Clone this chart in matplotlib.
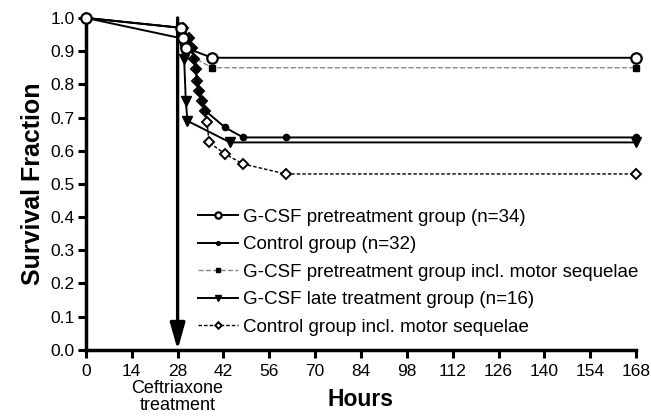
import numpy as np
import matplotlib.pyplot as plt

plt.rcParams['font.family'] = ['Liberation Sans', 'DejaVu Sans']

# survival curves (hours, survival fraction)
pre_t = [0, 29, 29.5, 30.5, 38.5, 168]
pre_v = [1.0, 0.97, 0.94, 0.91, 0.88, 0.88]

ctrl_t = [0, 29.5, 31.5, 32.5, 33, 33.5, 34, 34.5, 35.3, 36.5, 42.5, 48, 61, 168]
ctrl_v = [1.0, 0.97, 0.94, 0.91, 0.875, 0.845, 0.81, 0.78, 0.75, 0.72, 0.67, 0.64, 0.64, 0.64]

pre_m_t = [0, 29, 29.5, 30.5, 33, 38.5, 168]
pre_m_v = [1.0, 0.97, 0.94, 0.91, 0.88, 0.85, 0.85]

late_t = [0, 28.5, 30, 30.5, 31, 44, 168]
late_v = [1.0, 0.94, 0.875, 0.75, 0.69, 0.625, 0.625]

ctrl_m_t = [0, 29.5, 31.5, 32.5, 33, 33.5, 34, 34.5, 35.3, 36.5, 37, 37.6, 42.5, 48, 61, 168]
ctrl_m_v = [1.0, 0.97, 0.94, 0.91, 0.875, 0.845, 0.81, 0.78, 0.75, 0.72, 0.685, 0.625, 0.59, 0.56, 0.53, 0.53]

xticks = np.arange(0, 169, 14)
yticks = np.arange(0, 1.01, 0.1)

fig = plt.figure(figsize=(6.51, 4.17), dpi=100)
ax = fig.add_axes([0.132, 0.161, 0.845, 0.796])

ax.plot(pre_t, pre_v, '-', color='black', lw=1.4, marker='o', ms=7.5, mfc='white',
        mec='black', mew=1.6, clip_on=False, zorder=5, label='G-CSF pretreatment group (n=34)')
ax.plot(ctrl_t, ctrl_v, '-', color='black', lw=1.4, marker='o', ms=4.5, mfc='black',
        mec='black', clip_on=False, zorder=4, label='Control group (n=32)')
ax.plot(pre_m_t, pre_m_v, '--', color='#888888', lw=1.0, marker='s', ms=5, mfc='black',
        mec='black', clip_on=False, zorder=3, markevery=[5, 6],
        label='G-CSF pretreatment group incl. motor sequelae')
ax.plot(late_t, late_v, '-', color='black', lw=1.4, marker='v', ms=7, mfc='black',
        mec='black', clip_on=False, zorder=4, markevery=[2, 3, 4, 5, 6],
        label='G-CSF late treatment group (n=16)')
ax.plot(ctrl_m_t, ctrl_m_v, '--', color='black', lw=1.0, dashes=(2.5, 1.5), marker='D', ms=5.5,
        mfc='white', mec='black', mew=1.4, clip_on=False, zorder=3,
        label='Control group incl. motor sequelae')

# Ceftriaxone arrow
ax.annotate('', xy=(28, 0.0), xytext=(28, 1.0),
            arrowprops=dict(arrowstyle='-|>,head_width=0.45,head_length=1.6', color='black', lw=2.4,
                            shrinkA=0, shrinkB=0), annotation_clip=False)
ax.text(28, -0.092, 'Ceftriaxone\ntreatment', ha='center', va='top', fontsize=13,
        linespacing=0.95)

ax.set_xlim(0, 168)
ax.set_ylim(0, 1.0)
ax.set_xticks(xticks)
ax.set_yticks(yticks)
ax.set_yticklabels(['%.1f' % v for v in yticks])
ax.tick_params(labelsize=12.5, width=2.2, length=6, direction='out')
ax.tick_params(axis='x', pad=4)
ax.tick_params(axis='y', pad=2)
for s in ['top', 'right']:
    ax.spines[s].set_visible(False)
for s in ['left', 'bottom']:
    ax.spines[s].set_linewidth(2.5)

ax.set_xlabel('Hours', fontsize=16.5, fontweight='bold', labelpad=7)
ax.set_ylabel('Survival Fraction', fontsize=18, fontweight='bold', labelpad=4)

ax.legend(loc='upper left', bbox_to_anchor=(0.204, 0.425), frameon=False, fontsize=13.5,
          labelspacing=0.55, handlelength=2.1, handletextpad=0.27, borderpad=0,
          borderaxespad=0, markerscale=0.6)

plt.savefig('out.png', dpi=100)
